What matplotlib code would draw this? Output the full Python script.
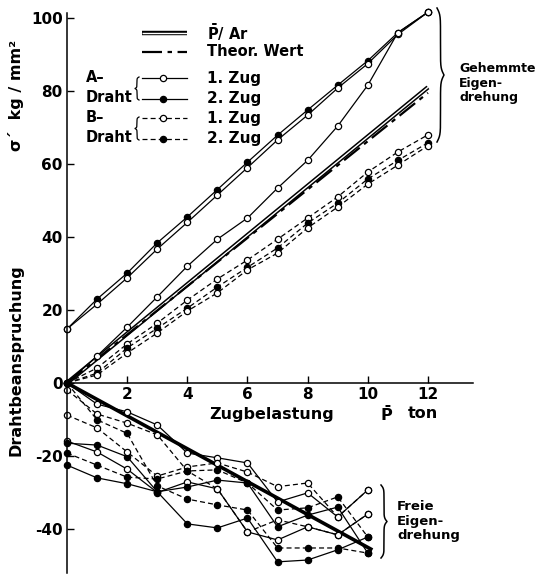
import numpy as np
import matplotlib
matplotlib.use('Agg')
import matplotlib.pyplot as plt

plt.rcParams['font.family'] = ['DejaVu Sans']
plt.rcParams['font.weight'] = 'bold'
plt.rcParams['mathtext.fontset'] = 'dejavusans'

# Zugbelastung P (ton)
x_up = np.arange(0, 13)
x_low = np.arange(0, 11)

# gehemmte Eigendrehung
p_ar = [0, 81.0]
theor = [0, 79.5]
a_top_2 = [14.8, 23.0, 30.1, 38.4, 45.5, 53.0, 60.5, 67.9, 74.8, 81.6, 88.3, 96.0, 101.6]
a_top_1 = [14.8, 21.6, 28.8, 36.7, 44.0, 51.5, 59.0, 66.6, 73.4, 80.8, 87.5, 95.5, 101.6]
a_mid_1 = [0, 7.4, 15.3, 23.6, 32.0, 39.4, 45.2, 53.4, 61.0, 70.4, 81.6, 96.0, 101.6]
b_1_hi = [0, 4.1, 10.7, 16.4, 22.7, 28.5, 33.7, 39.4, 45.2, 51.0, 57.8, 63.3, 68.0]
b_2 = [0, 2.7, 9.6, 15.0, 20.5, 26.3, 31.7, 37.0, 43.8, 49.3, 55.9, 61.0, 65.8]
b_1_lo = [0, 2.2, 8.2, 13.7, 19.7, 24.7, 31.0, 35.6, 42.5, 48.2, 54.5, 59.7, 65.0]

# freie Eigendrehung
free_mean = [0, -45.5]
free_mean_x = [0, 10.1]
fa1_a = [0, -5.8, -7.9, -11.5, -19.2, -20.5, -21.9, -32.6, -30.1, -36.7, -29.3]
fa1_b = [-15.9, -18.9, -23.6, -30.0, -27.1, -29.0, -40.8, -43.0, -39.4, -41.6, -35.9]
fa2_a = [-16.5, -17.0, -20.2, -29.8, -28.5, -26.6, -27.4, -39.4, -36.2, -34.0, -46.6]
fa2_b = [-22.5, -26.0, -27.6, -29.8, -38.6, -39.7, -37.0, -49.0, -48.5, -45.7, -42.2]
fb1_a = [-8.8, -12.3, -18.9, -25.5, -23.0, -21.9, -24.4, -28.4, -27.4, -36.7, -29.3]
fb1_b = [-1.9, -8.5, -11.0, -14.2, -24.1, -29.0, -40.8, -37.5, -39.4, -41.6, -35.9]
fb2_a = [-19.2, -22.5, -25.8, -26.3, -24.1, -23.8, -27.4, -34.8, -34.2, -31.2, -42.2]
fb2_b = [0, -10.1, -13.8, -28.2, -31.8, -33.4, -34.8, -45.2, -45.2, -45.2, -46.6]

W, H = 540, 575
fig = plt.figure(figsize=(W / 100, H / 100), dpi=100)
ax = fig.add_axes([0, 0, 1, 1])
sx, sy, x0, y0 = 30.08, 3.65, 67, 383


def fp(px, py):
    return px / W, 1 - py / H


solid = dict(color='k', lw=0.9, ms=4.5, mew=0.9, clip_on=False)
dash = dict(color='k', lw=0.9, ms=4.5, mew=0.9, ls=(0, (4, 2.5)), clip_on=False)

# upper part
ax.plot([0, 12], p_ar, color='k', lw=3.2, solid_capstyle='butt')
ax.plot([0, 12], p_ar, color='w', lw=1.0, solid_capstyle='butt')
ax.plot([0, 12], theor, color='k', lw=1.6, ls=(0, (9, 2.5, 2, 2.5)))
ax.plot(x_up, a_top_2, marker='o', mfc='k', **solid)
ax.plot(x_up, a_top_1, marker='o', mfc='w', **solid)
ax.plot(x_up, a_mid_1, marker='o', mfc='w', **solid)
ax.plot(x_up, b_1_hi, marker='o', mfc='w', **dash)
ax.plot(x_up, b_2, marker='o', mfc='k', **dash)
ax.plot(x_up, b_1_lo, marker='o', mfc='w', **dash)

# lower part
ax.plot(free_mean_x, free_mean, color='k', lw=2.6)
for ys in (fa1_a, fa1_b):
    ax.plot(x_low, ys, marker='o', mfc='w', **solid)
for ys in (fa2_a, fa2_b):
    ax.plot(x_low, ys, marker='o', mfc='k', **solid)
for ys in (fb1_a, fb1_b):
    ax.plot(x_low, ys, marker='o', mfc='w', **dash)
for ys in (fb2_a, fb2_b):
    ax.plot(x_low, ys, marker='o', mfc='k', **dash)

ax.set_xlim(-x0 / sx, (W - x0) / sx)
ax.set_ylim(-(H - y0) / sy, y0 / sy)

# axes
for s in ('top', 'right'):
    ax.spines[s].set_visible(False)
ax.spines['left'].set_position(('data', 0))
ax.spines['bottom'].set_position(('data', 0))
ax.spines['left'].set_bounds(-52, 101.5)
ax.spines['bottom'].set_bounds(0, 13.5)
ax.spines['left'].set_linewidth(1.1)
ax.spines['bottom'].set_linewidth(1.1)
ax.set_xticks([2, 4, 6, 8, 10, 12])
ax.set_yticks([-40, -20, 0, 20, 40, 60, 80, 100])
ax.tick_params(direction='in', length=5, width=1, labelsize=11, pad=3)
for lab in ax.get_xticklabels() + ax.get_yticklabels():
    lab.set_fontweight('bold')
ax.set_yticklabels(['-40', '-20', '0', '20', '40', '60', '80', '100'])

fig.text(*fp(272, 414), 'Zugbelastung', ha='center', va='center', fontsize=11.5, fontweight='bold')
fig.text(*fp(387, 414), r'$\bar{\mathbf{P}}$', ha='center', va='center', fontsize=11.5)
fig.text(*fp(423, 414), 'ton', ha='center', va='center', fontsize=11.5, fontweight='bold')
fig.text(*fp(16, 360), 'Drahtbeanspruchung', rotation=90, ha='center', va='center',
         fontsize=11.5, fontweight='bold')
fig.text(*fp(16, 95), 'σ´  kg / mm²', rotation=90, ha='center', va='center',
         fontsize=11.5, fontweight='bold')


def brace(px, py0, py1, w, lw=1.1):
    u = np.linspace(0, 0.5, 101)
    k = 40
    f = 1 / (1 + np.exp(-k * u)) + 1 / (1 + np.exp(-k * (u - 0.5)))
    xs = px + w * (f - 0.5)
    xs = np.concatenate((xs, xs[-2::-1]))
    ys = np.linspace(py0, py1, len(xs))
    fig.add_artist(plt.Line2D(xs / W, 1 - ys / H, color='k', lw=lw, transform=fig.transFigure))


brace(437, 8, 142, 7)
brace(381, 485, 558, 6)
fig.text(*fp(459, 83), 'Gehemmte\nEigen-\ndrehung', ha='left', va='center',
         fontsize=9, fontweight='bold', linespacing=1.2)
fig.text(*fp(397, 521), 'Freie\nEigen-\ndrehung', ha='left', va='center',
         fontsize=9.5, fontweight='bold', linespacing=1.15)


# legend
def leg_line(py, **kw):
    xs = np.array([142, 187]) / W
    ys = np.array([1 - py / H] * 2)
    fig.add_artist(plt.Line2D(xs, ys, transform=fig.transFigure, **kw))


leg_line(33, color='k', lw=3.2, solid_capstyle='butt')
leg_line(33, color='w', lw=1.0, solid_capstyle='butt')
leg_line(52, color='k', lw=1.6, ls=(0, (9, 2.5, 2, 2.5)))
for py, fill, st in ((78, 'w', '-'), (99, 'k', '-'), (118, 'w', (0, (4, 2.5))), (139, 'k', (0, (4, 2.5)))):
    leg_line(py, color='k', lw=0.9, ls=st)
    fig.add_artist(plt.Line2D([163 / W], [1 - py / H], marker='o', ms=4.5, mew=0.9, mfc=fill,
                              color='k', transform=fig.transFigure))
fig.text(*fp(207, 33), r'$\bar{\mathbf{P}}$/ Ar', ha='left', va='center', fontsize=10.5)
fig.text(*fp(207, 52), 'Theor. Wert', ha='left', va='center', fontsize=10.5, fontweight='bold')
for py, t in ((78, '1. Zug'), (99, '2. Zug'), (118, '1. Zug'), (139, '2. Zug')):
    fig.text(*fp(207, py), t, ha='left', va='center', fontsize=11, fontweight='bold')
for py, t in ((78, 'A–'), (98, 'Draht'), (118, 'B–'), (138, 'Draht')):
    fig.text(*fp(86, py), t, ha='left', va='center', fontsize=10.5, fontweight='bold')
brace(139, 77, 100, -4, lw=0.9)
brace(139, 117, 140, -4, lw=0.9)

fig.savefig('out.png', dpi=100)
